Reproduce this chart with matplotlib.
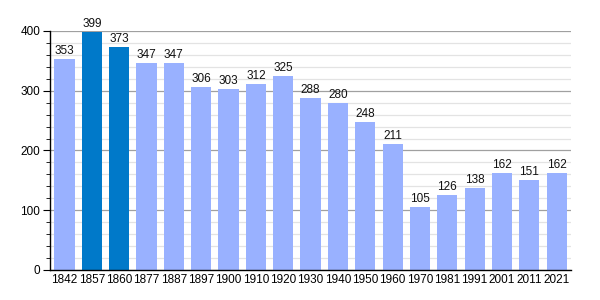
import numpy as np
import matplotlib.pyplot as plt

plt.rcParams["font.family"] = ["Liberation Sans", "DejaVu Sans"]

years = ["1842", "1857", "1860", "1877", "1887", "1897", "1900", "1910", "1920", "1930",
         "1940", "1950", "1960", "1970", "1981", "1991", "2001", "2011", "2021"]
population = [353, 399, 373, 347, 347, 306, 303, 312, 325, 288,
              280, 248, 211, 105, 126, 138, 162, 151, 162]
highlight = ["1857", "1860"]

light = "#99b1ff"
dark = "#0079c9"

fig = plt.figure(figsize=(6, 3), dpi=100)
ax = fig.add_axes([0.0833, 0.1, 0.8687, 0.7967])

x = np.arange(len(years))
colors = [dark if y in highlight else light for y in years]
ax.bar(x, population, width=0.74, color=colors, zorder=2)

for xi, v in zip(x, population):
    ax.text(xi, v + 3, str(v), ha="center", va="bottom", fontsize=8.5, color="#111111")

ax.set_xlim(-0.53, len(years) - 0.47)
ax.set_ylim(0, 400)
ax.set_yticks(np.arange(0, 401, 100))
ax.set_yticks(np.arange(0, 401, 20), minor=True)
ax.set_xticks(x)
ax.set_xticklabels(years)

ax.grid(axis="y", which="major", color="#a0a0a0", linewidth=0.9, zorder=0)
ax.grid(axis="y", which="minor", color="#e3e3e3", linewidth=0.9, zorder=0)
ax.set_axisbelow(True)

for s in ["top", "right"]:
    ax.spines[s].set_visible(False)
ax.spines["left"].set_linewidth(1.0)
ax.spines["bottom"].set_linewidth(1.0)

ax.tick_params(axis="x", length=0, labelsize=8.5, pad=3)
ax.tick_params(axis="y", which="major", length=5, labelsize=8.5, pad=2)
ax.tick_params(axis="y", which="minor", length=3)

fig.savefig("out.png", dpi=100)
